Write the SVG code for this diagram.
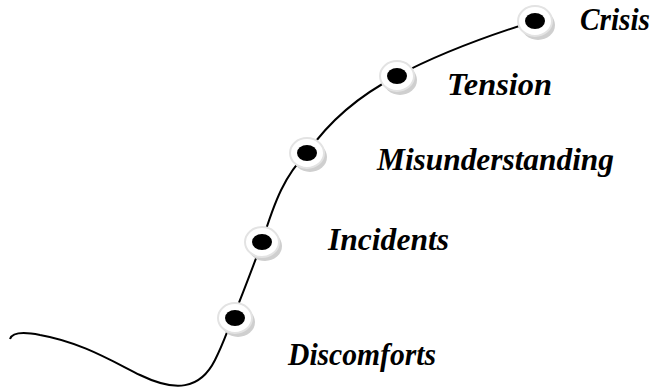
<svg xmlns="http://www.w3.org/2000/svg" width="655" height="392" viewBox="0 0 655 392">
<defs>
<style>
.lbl{font-family:"Liberation Serif","Times New Roman",serif;font-weight:bold;font-style:italic;font-size:31px;fill:#000}
.sh{fill:#cfcfcf}
.ring{fill:#fff;stroke:#e3e3e3;stroke-width:2}
.dot{fill:#000}
</style>
</defs>
<rect width="655" height="392" fill="#fff"/>
<g id="connectors">
<path d="M10,339 C12,333 20,331 40,335 C80,342 110,360 140,375 C175,392 200,390 215,360 C225,340 228,328 233,318 C242,295 252,270 262,242 C275,200 285,175 307,153 C330,120 360,95 397,76 C440,53 490,35 535,21" fill="none" stroke="#000" stroke-width="2"/>
</g>
<g id="node-discomforts">
<ellipse class="sh" cx="238" cy="322" rx="17" ry="15"/>
<ellipse class="ring" cx="235" cy="318" rx="17" ry="15"/>
<ellipse class="dot" cx="235" cy="318" rx="10" ry="8"/>
<text class="lbl" x="288" y="365" textLength="148" lengthAdjust="spacingAndGlyphs">Discomforts</text>
</g>
<g id="node-incidents">
<ellipse class="sh" cx="265" cy="246" rx="17" ry="15"/>
<ellipse class="ring" cx="262" cy="242" rx="17" ry="15"/>
<ellipse class="dot" cx="262" cy="242" rx="10" ry="8"/>
<text class="lbl" x="328" y="250" textLength="121" lengthAdjust="spacingAndGlyphs">Incidents</text>
</g>
<g id="node-misunderstanding">
<ellipse class="sh" cx="310" cy="157" rx="17" ry="15"/>
<ellipse class="ring" cx="307" cy="153" rx="17" ry="15"/>
<ellipse class="dot" cx="307" cy="153" rx="10" ry="8"/>
<text class="lbl" x="377" y="170" textLength="237" lengthAdjust="spacingAndGlyphs">Misunderstanding</text>
</g>
<g id="node-tension">
<ellipse class="sh" cx="400" cy="80" rx="17" ry="15"/>
<ellipse class="ring" cx="397" cy="76" rx="17" ry="15"/>
<ellipse class="dot" cx="397" cy="76" rx="10" ry="8"/>
<text class="lbl" x="447" y="95" textLength="105" lengthAdjust="spacingAndGlyphs">Tension</text>
</g>
<g id="node-crisis">
<ellipse class="sh" cx="538" cy="25" rx="17" ry="15"/>
<ellipse class="ring" cx="535" cy="21" rx="17" ry="15"/>
<ellipse class="dot" cx="535" cy="21" rx="10" ry="8"/>
<text class="lbl" x="580" y="30" textLength="70" lengthAdjust="spacingAndGlyphs">Crisis</text>
</g>
</svg>
